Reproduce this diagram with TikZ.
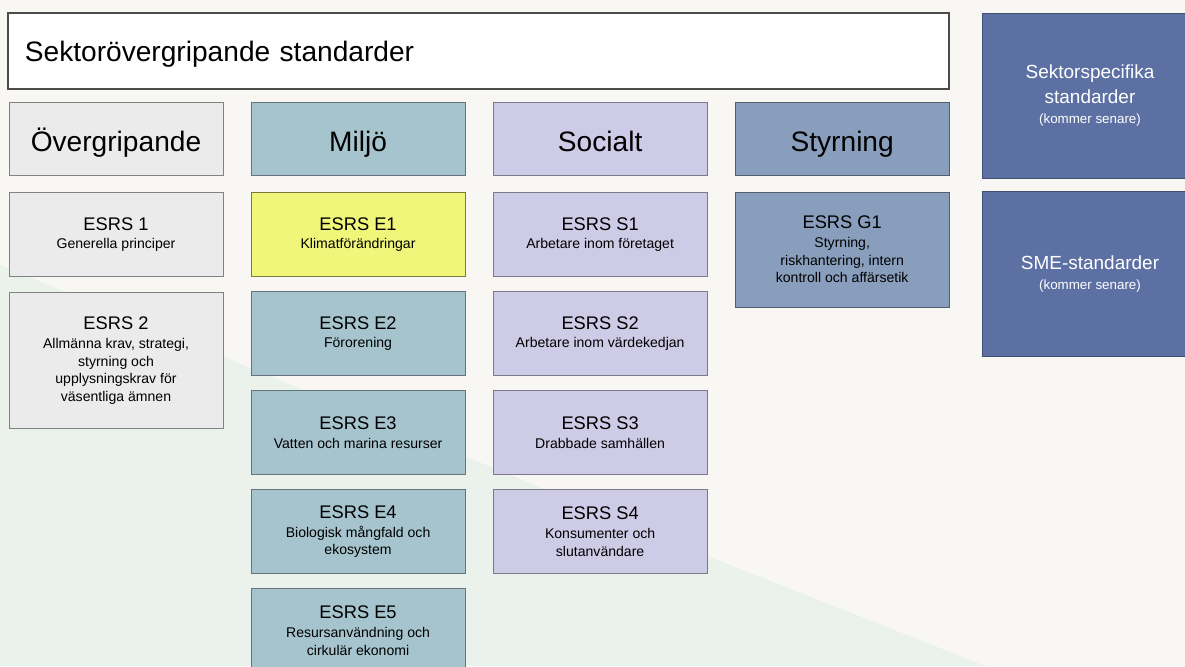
\documentclass[tikz,border=0pt]{standalone}
\usepackage{fontspec}
\setmainfont{Liberation Sans}
\definecolor{paper}{HTML}{F8F7F4}
\definecolor{leaf}{HTML}{EAF2EB}
\definecolor{overgrey}{HTML}{EBEBEB}
\definecolor{miljoblue}{HTML}{A6C4CD}
\definecolor{socialpurple}{HTML}{CECBE6}
\definecolor{styrblue}{HTML}{889EBC}
\definecolor{sectorblue}{HTML}{5C70A3}
\definecolor{climateyellow}{HTML}{EFF67A}

\begin{document}
\begin{tikzpicture}[
    x=0.025cm, y=-0.025cm,
    node distance=6.05cm,
    box/.style={
        rectangle,
        line width=0.6pt,
        minimum width=5.35cm,
        minimum height=2.1cm,
        inner sep=2pt,
        align=center,
        font=\fontsize{10}{12.4}\selectfont
    },
    head/.style={
        box,
        minimum height=1.825cm,
        text height=19pt,
        text depth=0pt,
        font=\fontsize{20}{24}\selectfont
    },
    over/.style={fill=overgrey, draw=overgrey!55!black},
    miljo/.style={fill=miljoblue, draw=miljoblue!60!black},
    social/.style={fill=socialpurple, draw=socialpurple!60!black},
    styr/.style={fill=styrblue, draw=styrblue!60!black},
    sector/.style={
        box,
        fill=sectorblue,
        draw=sectorblue!70!black,
        minimum width=5.4cm,
        minimum height=4.12cm,
        text=white,
        font=\fontsize{13.5}{17.5}\selectfont
    }
]
\newcommand{\code}[1]{{\fontsize{13}{15}\selectfont #1}\\[1pt]}

% Bakgrund
\useasboundingbox (0,0) rectangle (1185,666);
\clip (0,0) rectangle (1185,666);
\fill[paper] (0,0) rectangle (1185,666);
\fill[leaf] (0,265) -- (700,553) -- (985,666) -- (0,666) -- cycle;

% Rubrik
\node[rectangle, draw=black!70, line width=1pt, fill=white,
      minimum height=1.9cm, inner xsep=0.425cm, text width=22.675cm,
      text height=15.5pt, text depth=0pt,
      align=left, font=\fontsize{20}{24}\selectfont] (title) at (478.5,51)
      {Sektorövergripande standarder};

% Kolumnrubriker
\node[head, over] (hover) at (116,138.5) {Övergripande};
\node[head, miljo, right of=hover] (hmiljo) {Miljö};
\node[head, social, right of=hmiljo] (hsocial) {Socialt};
\node[head, styr, right of=hsocial] (hstyr) {Styrning};

% Övergripande
\node[box, over, below of=hover, node distance=2.4cm] (esrs1)
      {\code{ESRS 1}Generella principer};
\node[box, over, below of=esrs1, node distance=3.15cm, minimum height=3.4cm] (esrs2)
      {\code{ESRS 2}Allmänna krav, strategi,\\styrning och\\upplysningskrav för\\väsentliga ämnen};

% Miljö
\node[box, miljo, fill=climateyellow, draw=climateyellow!50!black, below of=hmiljo, node distance=2.4cm] (e1)
      {\code{ESRS E1}Klimatförändringar};
\node[box, miljo, below of=e1, node distance=2.475cm] (e2) {\code{ESRS E2}Förorening};
\node[box, miljo, below of=e2, node distance=2.475cm] (e3) {\code{ESRS E3}Vatten och marina resurser};
\node[box, miljo, below of=e3, node distance=2.475cm] (e4) {\code{ESRS E4}Biologisk mångfald och\\ekosystem};
\node[box, miljo, below of=e4, node distance=2.475cm] (e5) {\code{ESRS E5}Resursanvändning och\\cirkulär ekonomi};

% Socialt
\node[box, social, below of=hsocial, node distance=2.4cm] (s1) {\code{ESRS S1}Arbetare inom företaget};
\node[box, social, below of=s1, node distance=2.475cm] (s2) {\code{ESRS S2}Arbetare inom värdekedjan};
\node[box, social, below of=s2, node distance=2.475cm] (s3) {\code{ESRS S3}Drabbade samhällen};
\node[box, social, below of=s3, node distance=2.475cm] (s4) {\code{ESRS S4}Konsumenter och\\slutanvändare};

% Styrning
\node[box, styr, below of=hstyr, node distance=2.775cm, minimum height=2.875cm] (g1)
      {\code{ESRS G1}Styrning,\\riskhantering, intern\\kontroll och affärsetik};

% Kommande standarder
\node[sector] (sektor) at (1090,95.5)
      {Sektorspecifika\\standarder\\[-3pt]{\fontsize{9.5}{11}\selectfont (kommer senare)}};
\node[sector, below of=sektor, node distance=4.4625cm] (sme)
      {SME-standarder\\[-3pt]{\fontsize{9.5}{11}\selectfont (kommer senare)}};

\end{tikzpicture}
\end{document}
